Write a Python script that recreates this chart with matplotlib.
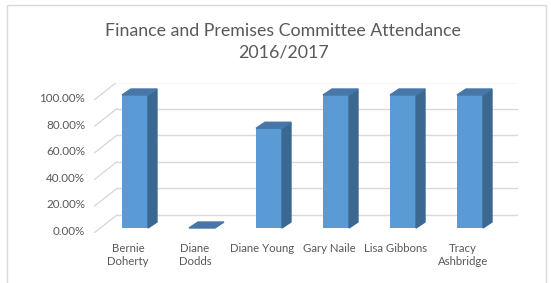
import matplotlib
matplotlib.use("Agg")
import matplotlib.pyplot as plt
from matplotlib.patches import Polygon, Rectangle

plt.rcParams['font.family'] = ['Lato', 'DejaVu Sans']

# --- dados ---
nomes = ["Bernie\nDoherty", "Diane\nDodds", "Diane Young", "Gary Naile",
         "Lisa Gibbons", "Tracy\nAshbridge"]
presenca = [1.00, 0.00, 0.75, 1.00, 1.00, 1.00]
ticks = [0.0, 0.2, 0.4, 0.6, 0.8, 1.0]
titulo = "Finance and Premises Committee Attendance\n2016/2017"

# --- estilo (efeito 3D falso, em unidades de dados) ---
LARG = 0.388          # largura da face frontal
DX, DY = 0.134, 0.045  # profundidade da barra
PX, PY = -0.269, 0.0977  # parede do fundo (inicio x, deslocamento y)
FX, FY = -0.612, -0.0376  # borda frontal do piso
X_FIM = 5.716

COR_FRENTE = "#5B9BD5"
COR_LADO = "#3B6890"
COR_TOPO = "#4677A8"
COR_GRADE = "#D9D9D9"
COR_TEXTO = "#595959"

fig = plt.figure(figsize=(5.51, 2.83), dpi=100)
fig.patches.append(Rectangle((7 / 551, -0.1), 539 / 551, 1.1 - 5 / 283,
                             transform=fig.transFigure, fill=False,
                             edgecolor=COR_GRADE, lw=1))

ax = fig.add_axes([94 / 551, 50 / 283, 424 / 551, 150 / 283])
ax.set_xlim(FX, X_FIM)
ax.set_ylim(FY, 1.0902)
ax.axis("off")

# grade na parede do fundo + diagonais no lado esquerdo
for t in ticks:
    ax.plot([PX, X_FIM], [t + PY, t + PY], color=COR_GRADE, lw=1, zorder=1)
    ax.plot([FX, PX], [t + FY, t + PY], color=COR_GRADE, lw=1, zorder=1)
    ax.text(FX - 0.13, t + FY + 0.012, f"{t * 100:.2f}%", ha="right",
            va="center", fontsize=8.4, color=COR_TEXTO, clip_on=False)

# barras
xs = list(range(len(nomes)))
ax.bar(xs, presenca, width=LARG, color=COR_FRENTE, zorder=3)
for x, v in zip(xs, presenca):
    e, d = x - LARG / 2, x + LARG / 2
    lado = [(d, 0), (d + DX, DY), (d + DX, v + DY), (d, v)]
    topo = [(e, v), (e + DX, v + DY), (d + DX, v + DY), (d, v)]
    if v > 0:
        ax.add_patch(Polygon(lado, closed=True, color=COR_LADO, zorder=3,
                             clip_on=False))
    ax.add_patch(Polygon(topo, closed=True, color=COR_TOPO, zorder=4,
                         clip_on=False))
    ax.text(x - 0.104, -0.115, nomes[x], ha="center", va="top",
            fontsize=8.2, color=COR_TEXTO, linespacing=1.2, clip_on=False)

fig.text(283 / 551, 1 - 42 / 283, titulo, ha="center", va="center",
         fontsize=12.8, color=COR_TEXTO, linespacing=1.45)

fig.savefig("out.png", dpi=100)
